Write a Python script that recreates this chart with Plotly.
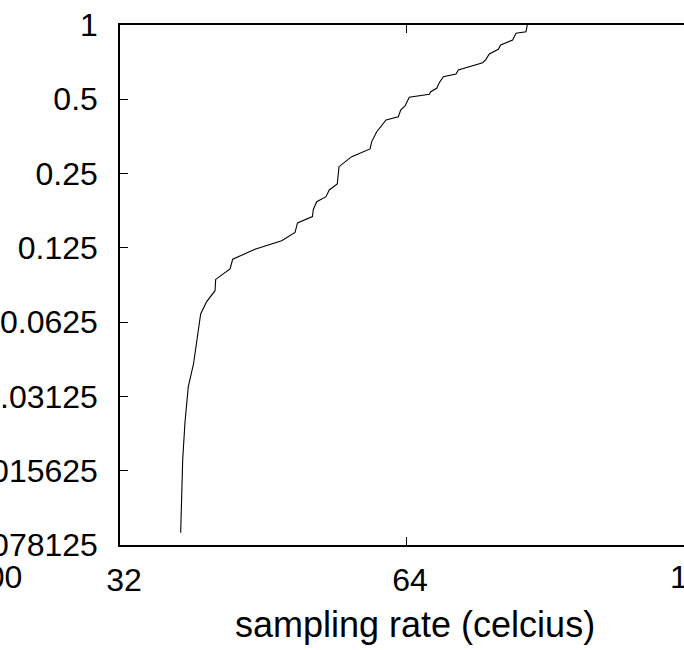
import math
import plotly.graph_objects as go

# data (log2 axes)
rate = [37.07, 37.25, 37.46, 37.76, 38.24, 38.91, 39.48, 40.29, 40.35, 41.78,
        42.05, 44.38, 47.35, 48.91, 49.20, 51.02, 51.12, 51.55, 52.72, 53.14,
        54.18, 54.41, 56.11, 58.66, 58.90, 59.62, 60.98, 62.82, 63.18, 63.85,
        64.51, 67.72, 67.95, 68.94, 69.38, 70.06, 72.25, 72.66, 77.07, 77.69,
        78.31, 80.04, 80.51, 82.88, 83.55, 85.60, 85.87]
frac = [0.00875, 0.01727, 0.02463, 0.03424, 0.0423, 0.0675, 0.0757, 0.0838, 0.0931, 0.1027,
        0.1124, 0.1234, 0.1337, 0.1443, 0.1577, 0.1673, 0.1789, 0.1923, 0.2015, 0.2145,
        0.2269, 0.2666, 0.2927, 0.3146, 0.3369, 0.3695, 0.4122, 0.4251, 0.4525, 0.4697,
        0.5094, 0.5238, 0.5368, 0.5540, 0.5837, 0.6173, 0.6331, 0.6572, 0.7035, 0.7262,
        0.7630, 0.7971, 0.8298, 0.8694, 0.9254, 0.9394, 1.0]

x_ticks = [32, 64, 128]
x_tick_text = ["32", "64", "128"]
y_ticks = [0.0078125, 0.015625, 0.03125, 0.0625, 0.125, 0.25, 0.5, 1]
y_tick_text = ["0.0078125", "0.015625", "0.03125", "0.0625", "0.125", "0.25", "0.5", "1"]
x_title = "sampling rate (celcius)"

W, H = 684, 650
L, T, B = 120, 25, 105
plot_w = W - L
plot_h = H - T - B
octave_px = 286

fig = go.Figure()
fig.add_trace(go.Scatter(x=rate, y=frac, mode="lines",
                         line=dict(color="#000000", width=1.1), showlegend=False))

font = dict(family="Liberation Sans, Arial, sans-serif", size=32, color="#000000")
title_font = dict(family="Liberation Sans, Arial, sans-serif", size=36, color="#000000")

x0 = math.log10(32)
x1 = x0 + (plot_w / octave_px) * math.log10(2)

fig.update_xaxes(type="log", range=[x0, x1], tickvals=x_ticks[:2], ticktext=x_tick_text[:2],
                 ticks="inside", ticklen=8, tickwidth=1, tickcolor="#000",
                 showline=True, linecolor="#000", linewidth=1.5, mirror="ticks",
                 showgrid=False, zeroline=False, tickfont=font, ticklabelstandoff=6,
                 ticklabelshift=4, automargin=False)
fig.update_yaxes(type="log", range=[math.log10(0.0078125), 0], tickvals=y_ticks,
                 ticktext=y_tick_text, ticks="inside", ticklen=8, tickwidth=1, tickcolor="#000",
                 showline=True, linecolor="#000", linewidth=1.5, mirror=False,
                 showgrid=False, zeroline=False, tickfont=font, ticklabelstandoff=14,
                 automargin=False)


def px_x(px):
    return (px - L) / plot_w


def px_y(py):
    return (H - B - py) / plot_h


anns = [
    # 128 tick label sits just beyond the right edge
    dict(x=px_x(696), y=px_y(577), xref="paper", yref="paper",
         text=x_tick_text[2], showarrow=False, xanchor="center", yanchor="middle", font=font),
    dict(x=px_x(415), y=px_y(624), xref="paper", yref="paper",
         text=x_title, showarrow=False, xanchor="center", yanchor="middle", font=title_font),
    dict(x=px_x(24), y=px_y(577), xref="paper", yref="paper",
         text="100", showarrow=False, xanchor="right", yanchor="middle", font=font),
]
fig.update_layout(width=W, height=H, margin=dict(l=L, r=0, t=T, b=B, pad=0),
                  plot_bgcolor="white", paper_bgcolor="white", annotations=anns)

fig.write_html("out.html", config={"displayModeBar": False},
               post_script="document.body.style.margin='0';document.body.style.overflow='hidden';")
